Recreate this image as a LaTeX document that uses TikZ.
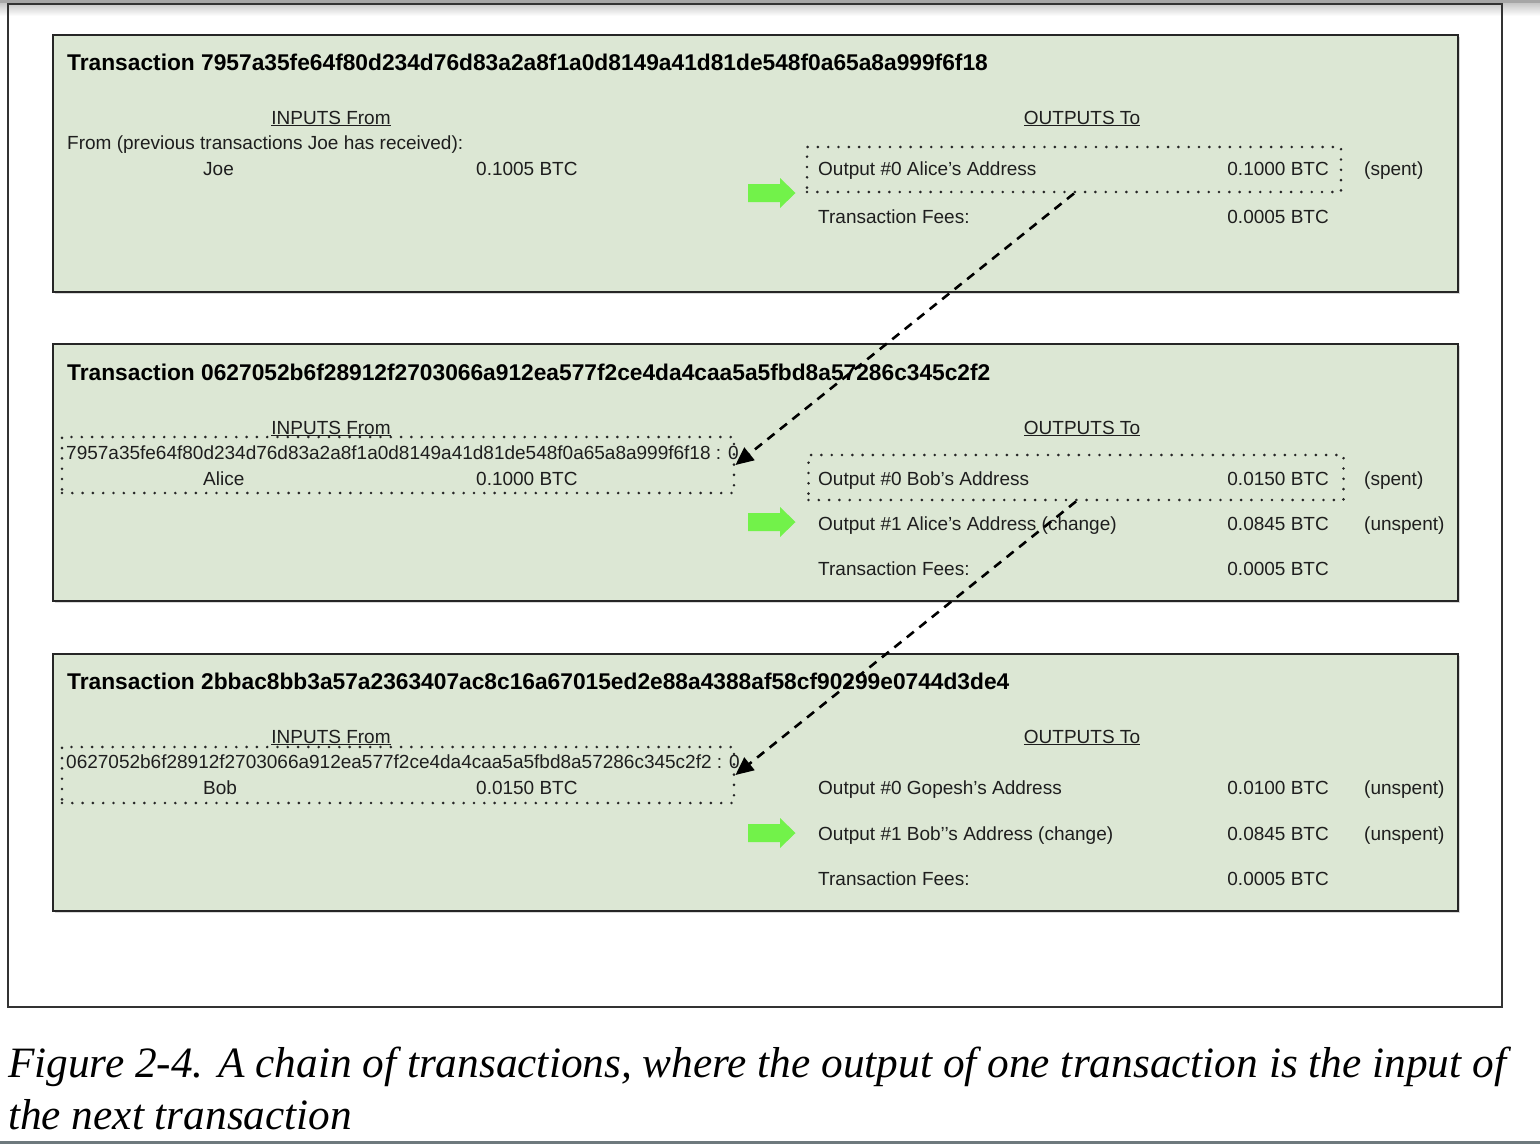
\documentclass[tikz,border=0pt]{standalone}
\usepackage{fontspec}
\setmainfont{Liberation Sans}
\newfontfamily\capfont{Liberation Serif}
\usetikzlibrary{arrows.meta,shadows}
\definecolor{boxgreen}{HTML}{DCE7D4}
\definecolor{arrgreen}{HTML}{72F24A}
\definecolor{txt}{HTML}{1E1E1E}
\definecolor{barslate}{HTML}{6E797D}
\begin{document}
\begin{tikzpicture}[x=1pt,y=-1pt,
  txbox/.style={draw=black!85, line width=2.4pt, fill=boxgreen, minimum width=1405pt, minimum height=257pt, inner sep=0pt,
    drop shadow={opacity=0.3, shadow xshift=1.5pt, shadow yshift=-1.5pt}},
  lbl/.style={anchor=base west, inner sep=0pt, text=txt, font=\fontsize{19}{22}\selectfont},
  num/.style={anchor=base east, inner sep=0pt, text=txt, font=\fontsize{19}{22}\selectfont},
  ttl/.style={anchor=base west, inner sep=0pt, text=black, font=\bfseries\fontsize{22.75}{26}\selectfont},
  head/.style={anchor=base, inner sep=0pt, text=txt, font=\fontsize{19}{22}\selectfont},
  dotbox/.style={draw=black!85, line width=2.9pt, dash pattern=on 0pt off 10.3pt, line cap=round, inner sep=0pt},
  chain/.style={draw=black, line width=2.6pt, dash pattern=on 9pt off 7pt, -{Triangle[length=18pt,width=16pt]}},
  captxt/.style={anchor=base west, inner sep=0pt, text=black, font=\capfont\itshape\fontsize{43.3}{52}\selectfont},
  garrow/.pic={\fill[arrgreen] (-23.5,-9) -- (8.5,-9) -- (8.5,-15) -- (24,0) -- (8.5,15) -- (8.5,9) -- (-23.5,9) -- cycle;}
]
\useasboundingbox (0,0) rectangle (1540,1144);
% top bar and bottom rule
\shade[top color=gray!55, bottom color=white] (0,0) rectangle (1540,16);
\fill[gray!70] (0,0) rectangle (1540,2.5);
\fill[barslate] (0,1140.5) rectangle (1540,1144);
% outer frame
\node[draw=black!80, line width=1.2pt, minimum width=1494pt, minimum height=1003pt, inner sep=0pt] (frame) at (755,505.5) {};

% ---------------- Transaction 1 ----------------
\node[txbox] (tx1) at (755.5,163.5) {};
\node[ttl] (t1) at (67,70) {Transaction 7957a35fe64f80d234d76d83a2a8f1a0d8149a41d81de548f0a65a8a999f6f18};
\node[head] (in1h) at (331,124) {\underline{INPUTS From}};
\node[head] (out1h) at (1082,124) {\underline{OUTPUTS To}};
\node[lbl] (from1) at (67,149) {From (previous transactions Joe has received):};
\node[lbl] (joe) at (203,175) {Joe};
\node[lbl] (joev) at (476,175) {0.1005 BTC};
\node[dotbox, minimum width=534pt, minimum height=45pt] (out1) at (1074,169.5) {};
\node[lbl] (o10) at (818,175) {Output \#0 Alice’s Address};
\node[num] (o10v) at (1329,175) {0.1000 BTC};
\node[lbl] (o10s) at (1364,175) {(spent)};
\pic (ga1) at (771.5,193) {garrow};
\node[lbl] (f1) at (818,223) {Transaction Fees:};
\node[num] (f1v) at (1329,223) {0.0005 BTC};

% ---------------- Transaction 2 ----------------
\node[txbox] (tx2) at (755.5,472.5) {};
\node[ttl] (t2) at (67,380) {Transaction 0627052b6f28912f2703066a912ea577f2ce4da4caa5a5fbd8a57286c345c2f2};
\node[head] (in2h) at (331,434) {\underline{INPUTS From}};
\node[head] (out2h) at (1082,434) {\underline{OUTPUTS To}};
\node[dotbox, minimum width=672pt, minimum height=56pt] (in2) at (398,465) {};
\node[lbl] (h2) at (66,459) {7957a35fe64f80d234d76d83a2a8f1a0d8149a41d81de548f0a65a8a999f6f18 : 0};
\node[lbl] (alice) at (203,485) {Alice};
\node[lbl] (alicev) at (476,485) {0.1000 BTC};
\node[dotbox, minimum width=535pt, minimum height=45pt] (out2) at (1076,477.5) {};
\node[lbl] (o20) at (818,485) {Output \#0 Bob’s Address};
\node[num] (o20v) at (1329,485) {0.0150 BTC};
\node[lbl] (o20s) at (1364,485) {(spent)};
\pic (ga2) at (771.5,522) {garrow};
\node[lbl] (o21) at (818,530) {Output \#1 Alice’s Address (change)};
\node[num] (o21v) at (1329,530) {0.0845 BTC};
\node[lbl] (o21s) at (1364,530) {(unspent)};
\node[lbl] (f2) at (818,575) {Transaction Fees:};
\node[num] (f2v) at (1329,575) {0.0005 BTC};

% ---------------- Transaction 3 ----------------
\node[txbox] (tx3) at (755.5,782.5) {};
\node[ttl] (t3) at (67,689) {Transaction 2bbac8bb3a57a2363407ac8c16a67015ed2e88a4388af58cf90299e0744d3de4};
\node[head] (in3h) at (331,743) {\underline{INPUTS From}};
\node[head] (out3h) at (1082,743) {\underline{OUTPUTS To}};
\node[dotbox, minimum width=672pt, minimum height=56pt] (in3) at (398,775) {};
\node[lbl] (h3) at (66,768) {0627052b6f28912f2703066a912ea577f2ce4da4caa5a5fbd8a57286c345c2f2 : 0};
\node[lbl] (bob) at (203,794) {Bob};
\node[lbl] (bobv) at (476,794) {0.0150 BTC};
\node[lbl] (o30) at (818,794) {Output \#0 Gopesh’s Address};
\node[num] (o30v) at (1329,794) {0.0100 BTC};
\node[lbl] (o30s) at (1364,794) {(unspent)};
\pic (ga3) at (771.5,833) {garrow};
\node[lbl] (o31) at (818,840) {Output \#1 Bob’’s Address (change)};
\node[num] (o31v) at (1329,840) {0.0845 BTC};
\node[lbl] (o31s) at (1364,840) {(unspent)};
\node[lbl] (f3) at (818,885) {Transaction Fees:};
\node[num] (f3v) at (1329,885) {0.0005 BTC};

% ---------------- chain connectors ----------------
\draw[chain] (out1.south) -- (in2.east);
\draw[chain] (out2.south) -- (in3.east);

% ---------------- caption ----------------
\node[captxt] (cap1) at (8,1077) {Figure 2-4. A chain of transactions, where the output of one transaction is the input of};
\node[captxt] (cap2) at (8,1129) {the next transaction};
\end{tikzpicture}
\end{document}
